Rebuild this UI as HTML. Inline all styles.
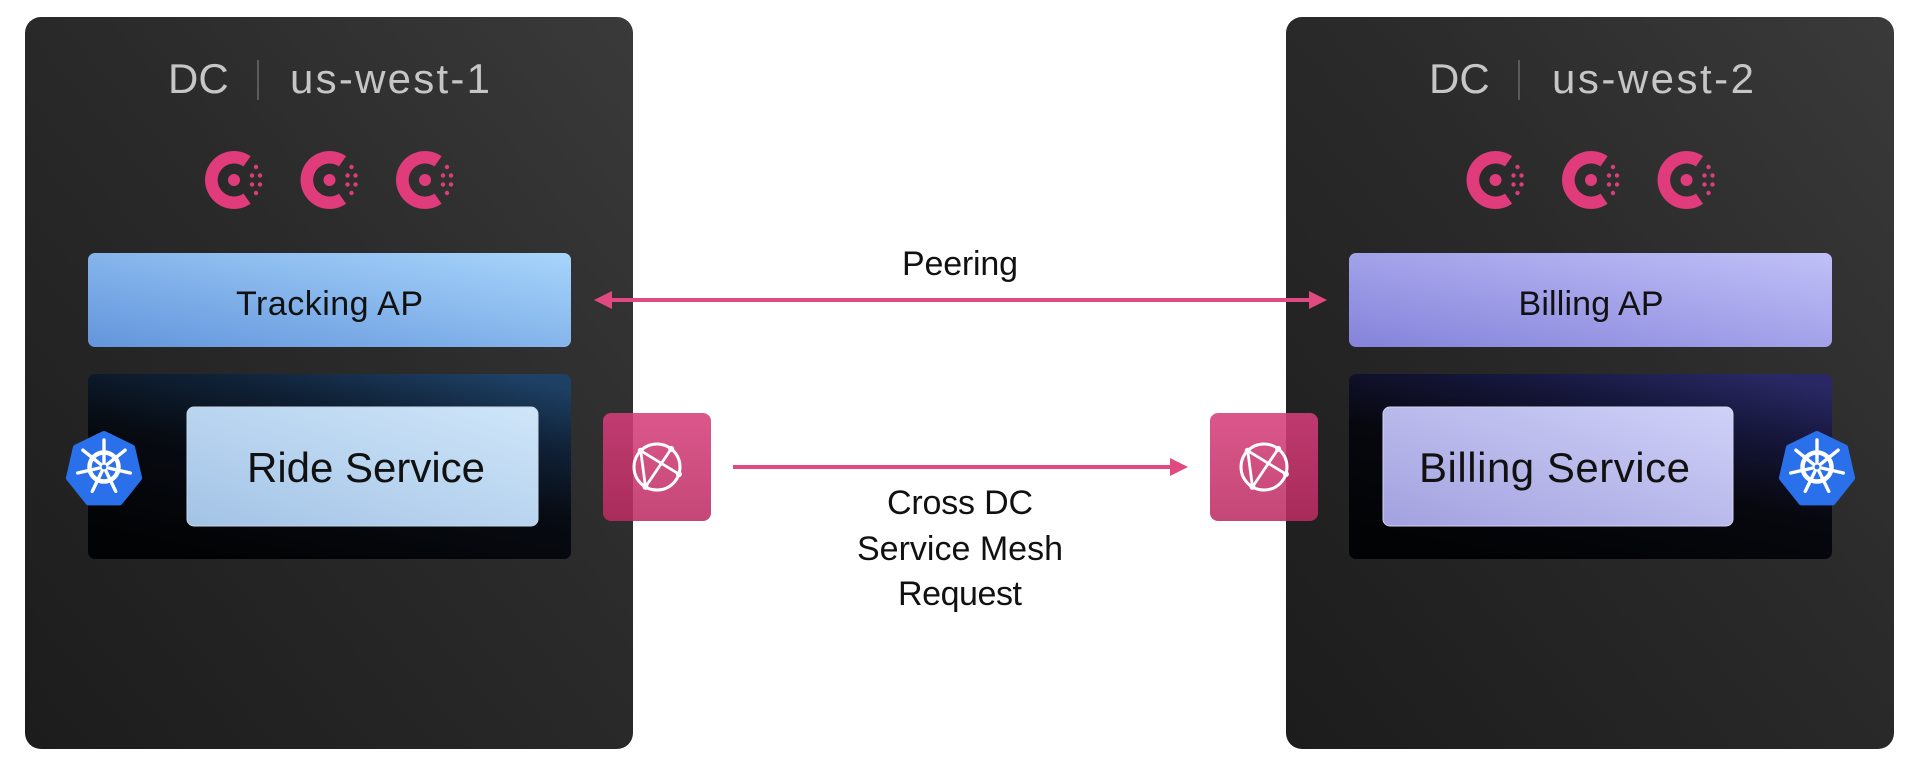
<!DOCTYPE html>
<html>
<head>
<meta charset="utf-8">
<style>
  html,body{margin:0;padding:0;background:#fff;}
  body{width:1926px;height:770px;overflow:hidden;}
  svg{display:block;}
  text{font-family:"Liberation Sans", Arial, sans-serif;}
</style>
</head>
<body>
<svg width="1926" height="770" viewBox="0 0 1926 770" xmlns="http://www.w3.org/2000/svg">
  <defs>
    <linearGradient id="panelG" x1="1" y1="0" x2="0" y2="1">
      <stop offset="0" stop-color="#3a3a3a"/>
      <stop offset="0.45" stop-color="#2a2a2a"/>
      <stop offset="1" stop-color="#1c1c1c"/>
    </linearGradient>
    <linearGradient id="trackG" x1="0" y1="1" x2="1" y2="0">
      <stop offset="0" stop-color="#6395dc"/>
      <stop offset="1" stop-color="#a8d5fb"/>
    </linearGradient>
    <linearGradient id="billAPG" x1="0" y1="1" x2="1" y2="0">
      <stop offset="0" stop-color="#8583da"/>
      <stop offset="1" stop-color="#c0c0f8"/>
    </linearGradient>
    <linearGradient id="rideG" x1="0" y1="1" x2="1" y2="0">
      <stop offset="0" stop-color="#a3c3e6"/>
      <stop offset="1" stop-color="#cfe6f9"/>
    </linearGradient>
    <linearGradient id="billSG" x1="0" y1="1" x2="1" y2="0">
      <stop offset="0" stop-color="#a3a1df"/>
      <stop offset="1" stop-color="#d0d1f8"/>
    </linearGradient>
    <linearGradient id="darkL" x1="0.3" y1="1" x2="0.85" y2="0">
      <stop offset="0" stop-color="#020304"/>
      <stop offset="0.45" stop-color="#070b12"/>
      <stop offset="0.75" stop-color="#102238"/>
      <stop offset="1" stop-color="#1e4064"/>
    </linearGradient>
    <linearGradient id="darkR" x1="0.3" y1="1" x2="0.85" y2="0">
      <stop offset="0" stop-color="#020304"/>
      <stop offset="0.45" stop-color="#07080f"/>
      <stop offset="0.75" stop-color="#15163a"/>
      <stop offset="1" stop-color="#2a2864"/>
    </linearGradient>
    <linearGradient id="pinkG" x1="0" y1="0" x2="0" y2="1">
      <stop offset="0" stop-color="#d63e7a"/>
      <stop offset="1" stop-color="#bb2c62"/>
    </linearGradient>
    <g id="consul">
      <path d="M 16.6 -23.8 A 29 29 0 1 0 16.6 23.8 L 9.5 13.6 A 16.5 16.5 0 1 1 9.5 -13.6 Z" fill="#e03b7a"/>
      <circle cx="0" cy="0" r="6" fill="#e03b7a"/>
      <circle cx="22" cy="-13" r="2.2" fill="#e03b7a"/>
      <circle cx="18" cy="-4.5" r="2.2" fill="#e03b7a"/>
      <circle cx="26" cy="-4.5" r="2.2" fill="#e03b7a"/>
      <circle cx="18" cy="4.5" r="2.2" fill="#e03b7a"/>
      <circle cx="26" cy="4.5" r="2.2" fill="#e03b7a"/>
      <circle cx="22" cy="13" r="2.2" fill="#e03b7a"/>
    </g>
    <g id="k8s">
      <polygon points="0,-36 28.1,-22.4 35.1,8 15.6,32.4 -15.6,32.4 -35.1,8 -28.1,-22.4" fill="#2a70ea" stroke="#2a70ea" stroke-width="6" stroke-linejoin="round"/>
      <g stroke="#fff" stroke-width="3.4" stroke-linecap="round" fill="none" transform="translate(0,-3)">
        <line x1="0" y1="0" x2="0" y2="-27"/>
        <line x1="0" y1="0" x2="21.1" y2="-16.8"/>
        <line x1="0" y1="0" x2="26.3" y2="6"/>
        <line x1="0" y1="0" x2="11.7" y2="24.3"/>
        <line x1="0" y1="0" x2="-11.7" y2="24.3"/>
        <line x1="0" y1="0" x2="-26.3" y2="6"/>
        <line x1="0" y1="0" x2="-21.1" y2="-16.8"/>
        <circle cx="0" cy="0" r="14.5" stroke-width="4.5"/>
      </g>
      <circle cx="0" cy="-3" r="2.4" fill="#2a70ea"/>
    </g>
    <g id="mesh">
      <circle cx="0" cy="0" r="23" fill="none" stroke="#fff" stroke-width="3"/>
      <g stroke="#fff" stroke-width="2.8" stroke-linecap="round">
        <line x1="-16.3" y1="-16.3" x2="-11.5" y2="19.9"/>
        <line x1="-16.3" y1="-16.3" x2="21.9" y2="7.1"/>
        <line x1="14.2" y1="-18.1" x2="-11.5" y2="19.9"/>
      </g>
      <circle cx="-16.3" cy="-16.3" r="3" fill="#fff"/>
      <circle cx="14.2" cy="-18.1" r="3" fill="#fff"/>
      <circle cx="21.9" cy="7.1" r="3" fill="#fff"/>
      <circle cx="-11.5" cy="19.9" r="3" fill="#fff"/>
    </g>
  </defs>

  <!-- Left panel -->
  <rect x="25" y="17" width="608" height="732" rx="16" fill="url(#panelG)"/>
  <text x="168" y="93" font-size="42" fill="#c6c6c6">DC</text>
  <line x1="258" y1="60" x2="258" y2="100" stroke="#5a5a5a" stroke-width="2"/>
  <text x="290" y="93" font-size="42" fill="#c6c6c6" textLength="200">us-west-1</text>
  <use href="#consul" x="234" y="180"/>
  <use href="#consul" x="329.5" y="180"/>
  <use href="#consul" x="425" y="180"/>
  <rect x="88" y="253" width="483" height="94" rx="7" fill="url(#trackG)"/>
  <text x="329.5" y="315" font-size="34" fill="#111" text-anchor="middle" textLength="187">Tracking AP</text>
  <rect x="88" y="374" width="483" height="185" rx="7" fill="url(#darkL)"/>
  <rect x="187" y="407" width="351" height="119" rx="7" fill="url(#rideG)" stroke="#c8d8ea" stroke-width="1"/>
  <text x="366" y="482" font-size="42" fill="#111" text-anchor="middle" textLength="238">Ride Service</text>
  <use href="#k8s" x="104" y="470"/>

  <!-- Right panel -->
  <rect x="1286" y="17" width="608" height="732" rx="16" fill="url(#panelG)"/>
  <text x="1429" y="93" font-size="42" fill="#c6c6c6">DC</text>
  <line x1="1519" y1="60" x2="1519" y2="100" stroke="#5a5a5a" stroke-width="2"/>
  <text x="1552" y="93" font-size="42" fill="#c6c6c6" textLength="202">us-west-2</text>
  <use href="#consul" x="1495.5" y="180"/>
  <use href="#consul" x="1591" y="180"/>
  <use href="#consul" x="1686.5" y="180"/>
  <rect x="1349" y="253" width="483" height="94" rx="7" fill="url(#billAPG)"/>
  <text x="1591" y="315" font-size="34" fill="#111" text-anchor="middle" textLength="145">Billing AP</text>
  <rect x="1349" y="374" width="483" height="185" rx="7" fill="url(#darkR)"/>
  <rect x="1383" y="407" width="350" height="119" rx="7" fill="url(#billSG)" stroke="#d4d4f2" stroke-width="1"/>
  <text x="1554.5" y="482" font-size="42" fill="#111" text-anchor="middle" textLength="271">Billing Service</text>
  <use href="#k8s" x="1817" y="470"/>

  <!-- Mesh gateway boxes -->
  <rect x="603" y="413" width="108" height="108" rx="8" fill="url(#pinkG)" fill-opacity="0.87"/>
  <use href="#mesh" x="657" y="467"/>
  <rect x="1210" y="413" width="108" height="108" rx="8" fill="url(#pinkG)" fill-opacity="0.87"/>
  <use href="#mesh" x="1264" y="467"/>

  <!-- Peering arrow -->
  <line x1="608" y1="300" x2="1313" y2="300" stroke="#e04a80" stroke-width="4"/>
  <polygon points="594,300 612,291 612,309" fill="#e04a80"/>
  <polygon points="1327,300 1309,291 1309,309" fill="#e04a80"/>
  <text x="960" y="275" font-size="34" fill="#111" text-anchor="middle" textLength="116">Peering</text>

  <!-- Cross DC arrow -->
  <line x1="733" y1="467" x2="1172" y2="467" stroke="#e04a80" stroke-width="4"/>
  <polygon points="1188,467 1170,458 1170,476" fill="#e04a80"/>
  <text x="960" y="514" font-size="34" fill="#111" text-anchor="middle" textLength="146">Cross DC</text>
  <text x="960" y="560" font-size="34" fill="#111" text-anchor="middle" textLength="206">Service Mesh</text>
  <text x="960" y="605" font-size="34" fill="#111" text-anchor="middle" textLength="124">Request</text>
</svg>
</body>
</html>
